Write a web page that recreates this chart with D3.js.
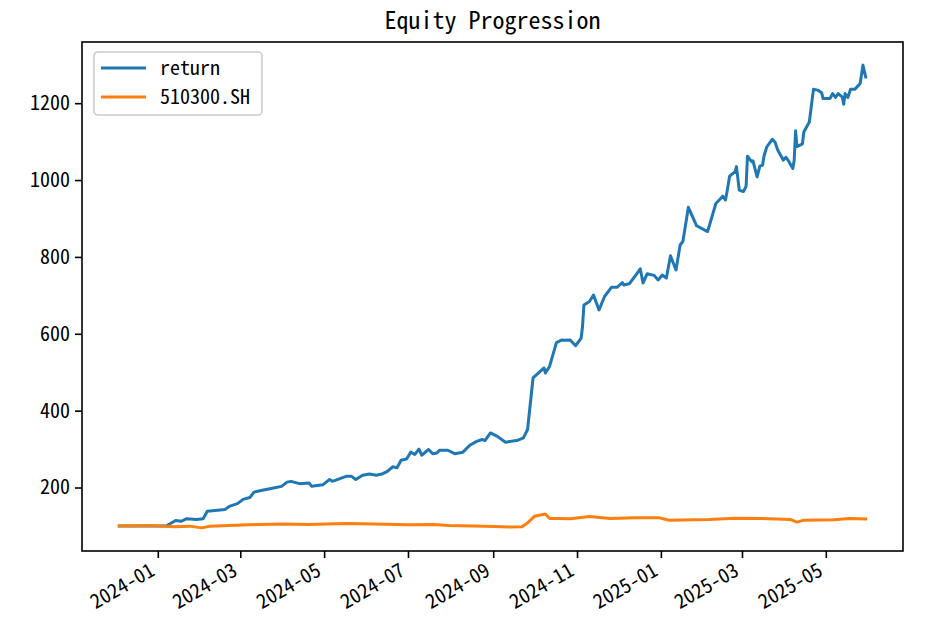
<!DOCTYPE html>
<html>
<head>
<meta charset="utf-8">
<script src="https://cdn.jsdelivr.net/npm/d3@7"></script>
<style>
  html, body { margin: 0; padding: 0; background: #fff; }
  svg { display: block; }
  text { font-family: "Noto Sans Mono CJK SC", "Noto Sans CJK SC", "DejaVu Sans Mono", monospace; fill: #000; }
</style>
</head>
<body>
<svg id="chart" width="936" height="641"></svg>
<script>
// ---- data ----
const chartTitle = "Equity Progression";
const seriesNames = ["return", "510300.SH"];
const seriesColors = ["#1f77b4", "#ff7f0e"];

const returnDates = [
  "2023-12-04","2024-01-07","2024-01-14","2024-01-18","2024-01-22","2024-01-29","2024-02-03","2024-02-06",
  "2024-02-19","2024-02-22","2024-02-28","2024-03-03","2024-03-08","2024-03-11","2024-03-17","2024-03-27",
  "2024-03-31","2024-04-04","2024-04-07","2024-04-13","2024-04-20","2024-04-22","2024-04-30","2024-05-05",
  "2024-05-07","2024-05-17","2024-05-21","2024-05-24","2024-05-29","2024-06-03","2024-06-08","2024-06-12",
  "2024-06-16","2024-06-20","2024-06-23","2024-06-26","2024-06-30","2024-07-03","2024-07-06","2024-07-09",
  "2024-07-11","2024-07-16","2024-07-19","2024-07-22","2024-07-24","2024-07-30","2024-08-04","2024-08-10",
  "2024-08-15","2024-08-20","2024-08-24","2024-08-26","2024-08-30","2024-09-04","2024-09-10","2024-09-19",
  "2024-09-23","2024-09-26","2024-09-30","2024-10-08","2024-10-09","2024-10-12","2024-10-17","2024-10-21",
  "2024-10-23","2024-10-27","2024-10-31","2024-11-04","2024-11-05","2024-11-06","2024-11-10","2024-11-13",
  "2024-11-17","2024-11-21","2024-11-26","2024-11-30","2024-12-04","2024-12-05","2024-12-09","2024-12-13",
  "2024-12-17","2024-12-19","2024-12-22","2024-12-27","2024-12-30","2025-01-02","2025-01-05","2025-01-08",
  "2025-01-12","2025-01-15","2025-01-17","2025-01-21","2025-01-27","2025-02-04","2025-02-10","2025-02-13",
  "2025-02-15","2025-02-17","2025-02-18","2025-02-20","2025-02-24","2025-02-25","2025-02-27","2025-03-02",
  "2025-03-04","2025-03-05","2025-03-08","2025-03-09","2025-03-12","2025-03-14","2025-03-16","2025-03-17",
  "2025-03-19","2025-03-23","2025-03-25","2025-03-27","2025-03-31","2025-04-02","2025-04-04","2025-04-07",
  "2025-04-08","2025-04-09","2025-04-10","2025-04-14","2025-04-15","2025-04-19","2025-04-22","2025-04-25",
  "2025-04-28","2025-04-29","2025-05-04","2025-05-06","2025-05-08","2025-05-10","2025-05-13","2025-05-14",
  "2025-05-15","2025-05-17","2025-05-19","2025-05-22","2025-05-26","2025-05-28","2025-05-30"
];
const returnValues = [
  100,100,114,112,119,117,119,138,
  143,151,158,169,174,188,193,200,
  203,214,216,210,212,203,207,221,
  216,229,229,221,232,235,232,235,
  242,254,251,271,274,292,286,300,
  284,299,288,290,297,297,288,292,
  310,320,325,322,342,333,318,323,
  329,351,485,511,498,515,577,584,
  583,584,569,589,619,675,684,701,
  662,697,721,721,733,727,730,749,
  769,732,756,752,740,753,745,803,
  766,831,840,929,881,866,939,950,
  958,948,967,1010,1022,1035,974,970,
  984,1062,1048,1050,1008,1036,1039,1062,
  1086,1106,1099,1078,1052,1059,1049,1030,
  1052,1128,1087,1094,1125,1151,1236,1234,
  1227,1212,1212,1225,1215,1225,1216,1197,
  1225,1215,1236,1236,1251,1299,1268
];

const benchDates = [
  "2023-12-04","2023-12-26","2024-01-13","2024-01-24","2024-02-02","2024-02-08","2024-02-26","2024-03-15",
  "2024-04-02","2024-04-20","2024-05-09","2024-05-19","2024-06-06","2024-07-02","2024-07-20","2024-07-31",
  "2024-08-26","2024-09-13","2024-09-22","2024-09-26","2024-10-01","2024-10-09","2024-10-12","2024-10-19",
  "2024-10-27","2024-11-10","2024-11-25","2024-12-13","2024-12-31","2025-01-07","2025-02-05","2025-02-24",
  "2025-03-14","2025-04-05","2025-04-10","2025-04-15","2025-05-07","2025-05-18","2025-05-30"
];
const benchValues = [
  100,101,98,99.5,95,99.5,102,104,
  105,104,106,106.5,105,103,104,101,
  99.5,97,98,108,125,131,119.5,119.5,
  118.7,124.7,119.5,121,121,115,117,120,
  119.5,117,110,115,116,119.5,118
];

const yTickValues = [200, 400, 600, 800, 1000, 1200];
const xTickLabels = ["2024-01","2024-03","2024-05","2024-07","2024-09","2024-11","2025-01","2025-03","2025-05"];

// ---- layout ----
const W = 936, H = 641;
const m = { left: 82, right: 33, top: 42, bottom: 90 };
const iw = W - m.left - m.right, ih = H - m.top - m.bottom;
const FONT = "'Noto Sans Mono CJK SC','Noto Sans CJK SC','DejaVu Sans Mono',monospace";

const parse = d3.timeParse("%Y-%m-%d");
const parseM = d3.timeParse("%Y-%m");
const series = [
  returnDates.map((d, i) => ({ date: parse(d), value: returnValues[i] })),
  benchDates.map((d, i) => ({ date: parse(d), value: benchValues[i] }))
];
const all = series.flat();

const xExt = d3.extent(all, d => d.date);
const xPad = (xExt[1] - xExt[0]) * 0.05;
const x = d3.scaleTime()
  .domain([new Date(+xExt[0] - xPad), new Date(+xExt[1] + xPad)])
  .range([0, iw]);

const yExt = d3.extent(all, d => d.value);
const yPad = (yExt[1] - yExt[0]) * 0.05;
const y = d3.scaleLinear().domain([yExt[0] - yPad, yExt[1] + yPad]).range([ih, 0]);

const svg = d3.select("#chart");
svg.append("rect").attr("width", W).attr("height", H).attr("fill", "#fff");

const g = svg.append("g").attr("transform", `translate(${m.left},${m.top})`);

// lines
const line = d3.line().x(d => x(d.date)).y(d => y(d.value));
g.append("g")
  .selectAll("path.series").data(series).join("path")
  .attr("class", "series")
  .attr("d", line)
  .attr("fill", "none")
  .attr("stroke", (d, i) => seriesColors[i])
  .attr("stroke-width", 3)
  .attr("stroke-linejoin", "round")
  .attr("stroke-linecap", "square");

// axes
const yAxis = d3.axisLeft(y).tickValues(yTickValues).tickSize(7).tickPadding(5).tickFormat(d3.format("d"));
const yg = g.append("g").call(yAxis);
yg.select(".domain").remove();
yg.selectAll("line").attr("stroke", "#000").attr("stroke-width", 1.6);
yg.selectAll("text").attr("font-size", 20).attr("fill", "#000").style("font-family", FONT);

const xAxis = d3.axisBottom(x).tickValues(xTickLabels.map(parseM)).tickSize(7).tickFormat(d3.timeFormat("%Y-%m"));
const xg = g.append("g").attr("transform", `translate(0,${ih})`).call(xAxis);
xg.select(".domain").remove();
xg.selectAll("line").attr("stroke", "#000").attr("stroke-width", 1.6);
xg.selectAll("text")
  .attr("font-size", 20).attr("fill", "#000").style("font-family", FONT)
  .attr("text-anchor", "end")
  .attr("x", 0).attr("y", 0).attr("dy", "0.78em")
  .attr("transform", "translate(-10,10) rotate(-30)");

// frame
g.append("rect").attr("width", iw).attr("height", ih)
  .attr("fill", "none").attr("stroke", "#000").attr("stroke-width", 1.6);

// title
svg.append("text").attr("x", m.left + iw / 2).attr("y", m.top - 13)
  .attr("text-anchor", "middle").attr("font-size", 24).text(chartTitle);

// legend
const lg = g.append("g").attr("transform", "translate(12,10)");
lg.append("rect").attr("x", 0).attr("y", 0).attr("width", 168).attr("height", 63)
  .attr("rx", 4).attr("fill", "#fff").attr("fill-opacity", 0.8)
  .attr("stroke", "#cccccc").attr("stroke-width", 1.6);
seriesNames.forEach((name, i) => {
  const yy = 16 + i * 29;
  lg.append("line").attr("x1", 7).attr("x2", 52).attr("y1", yy).attr("y2", yy)
    .attr("stroke", seriesColors[i]).attr("stroke-width", 3);
  lg.append("text").attr("x", 66).attr("y", yy).attr("dy", "0.35em")
    .attr("font-size", 20).text(name);
});
</script>
</body>
</html>
